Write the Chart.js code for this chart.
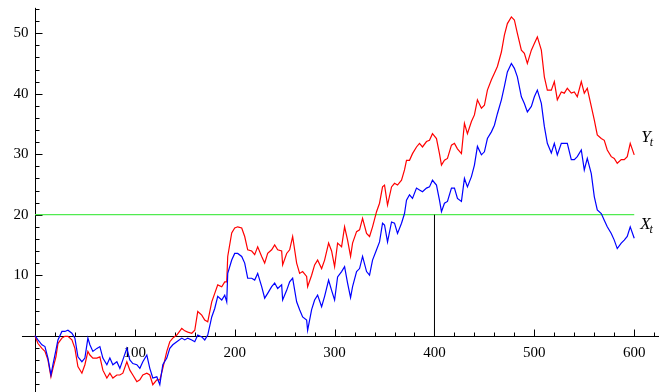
<!DOCTYPE html>
<html>
<head>
<meta charset="utf-8">
<script src="https://cdn.jsdelivr.net/npm/chart.js@4.4.1/dist/chart.umd.min.js"></script>
<style>
  html, body { margin: 0; padding: 0; background: #fff; }
  #wrap { width: 659px; height: 392px; }
</style>
</head>
<body>
<div id="wrap"><canvas id="walk" width="659" height="392"></canvas></div>
<script>
// time steps
const steps = [0,3,7,10,13,16,18,21,23,27, 30,33,37,40,43,47,50,53,55,58,
  62,65,68,72,75,78,82,85,88,92, 95,98,102,105,108,112,115,118,122,125,
  128,132,135,138,142,147,150,153,157,160, 163,167,170,173,177,180,183,187,190,192,
  193,197,200,203,207,210,213,217,220,223, 227,230,233,237,240,243,247,248,252,255,
  258,262,265,268,272,273,277,280,283,287, 290,294,297,300,303,307,310,313,316,318,
  322,325,328,332,335,338,342,345,348,350, 353,357,360,363,367,370,372,375,378,382,
  385,388,392,395,398,402,405,407,410,413, 417,420,423,427,430,433,437,440,443,447,
  450,453,457,460,463,467,470,473,477,480, 483,487,490,493,497,500,503,507,510,513,
  517,520,523,527,530,533,537,540,543,547, 550,553,557,560,563,567,570,573,577,580,
  583,587,590,593,596,600];

// X_t (blue)
const xVals = [0,-0.7,-1.5,-1.8,-3.7,-6.5,-4.8,-2.4,-0.7,0.7, 0.7,0.9,0.4,-0.4,-3.5,-4.3,-3.7,-0.4,-1.5,-2.6,
  -2.1,-1.8,-3.7,-4.8,-3.7,-4.8,-4.3,-5.4,-4.0,-2.1, -4.0,-4.6,-4.8,-5.4,-4.3,-3.2,-5.4,-7.0,-6.8,-8.1,
  -4.8,-3.7,-2.1,-1.5,-1.0,-0.4,-0.7,-0.4,-0.7,-1.0, 0.1,-0.2,-0.7,0.1,3.1,4.5,6.5,5.9,6.7,5.6,
  10.3,12.5,13.6,13.6,13.1,12.0,9.5,9.5,9.2,10.3, 8.1,6.2,7.0,8.1,8.7,7.8,8.4,5.9,7.5,8.9,
  9.5,5.6,4.3,3.1,2.6,0.9,4.3,5.9,6.7,4.8, 6.5,9.2,7.5,5.9,9.7,10.6,11.4,8.7,6.3,8.1,
  10.6,11.1,13.1,10.6,10.0,12.5,14.2,15.5,18.6,18.3, 15.5,18.8,18.6,16.9,18.6,20.2,22.4,23.3,22.7,24.4,
  24.1,23.8,24.4,24.6,25.7,24.9,22.4,20.5,21.9,22.2, 24.4,24.4,22.7,22.2,26.0,24.6,26.3,28.2,31.3,29.9,
  30.4,32.6,33.7,34.8,36.7,39.0,41.2,43.6,45.0,44.2, 42.8,39.5,38.4,37.0,37.9,39.5,40.6,38.4,34.6,31.8,
  30.2,31.8,29.9,31.8,31.8,31.8,29.1,29.1,29.6,30.7, 27.4,29.3,26.8,23.0,20.8,20.2,19.1,18.0,16.9,15.8,
  14.4,15.3,15.8,16.4,18.0,16.1];

// Y_t (red)
const yVals = [0,-1.3,-2.1,-2.6,-4.0,-6.8,-5.4,-3.5,-1.3,-0.4, -0.1,-0.1,-0.7,-2.1,-5.1,-6.2,-4.8,-2.6,-3.2,-3.7,
  -3.7,-3.5,-5.7,-7.0,-6.2,-7.0,-6.5,-6.5,-6.2,-4.3, -5.7,-6.5,-7.6,-7.3,-6.5,-6.2,-6.5,-8.1,-7.3,-7.3,
  -5.4,-2.6,-1.0,-0.4,0.1,1.2,0.8,0.6,0.4,0.9, 4.0,3.4,2.6,2.3,5.6,7.0,8.4,8.1,8.9,8.9,
  13.1,17.0,17.8,18.0,17.8,16.4,14.2,14.0,13.4,14.7, 13.1,12.0,13.6,14.2,15.0,14.2,14.0,11.7,13.6,14.2,
  16.4,12.0,10.3,10.6,9.8,8.1,10.0,11.7,12.5,11.1, 12.5,15.3,14.0,11.4,15.3,14.7,18.0,15.8,13.1,15.3,
  17.2,17.5,19.4,16.9,16.4,18.0,20.5,21.9,24.6,24.9, 21.6,24.6,25.2,24.9,25.7,27.4,29.0,29.0,30.1,31.2,
  31.8,31.2,32.1,32.3,33.4,32.6,30.1,28.2,29.0,29.3, 31.5,31.8,30.9,30.1,35.1,33.4,35.4,36.5,39.0,37.6,
  38.1,40.6,42.3,43.4,44.5,46.9,49.7,51.6,52.7,52.2, 50.0,47.2,46.7,45.0,47.2,48.3,49.4,47.2,42.8,40.6,
  40.6,42.0,39.0,40.3,40.1,40.9,40.1,40.3,39.5,42.0, 40.1,40.9,37.9,35.7,33.2,32.6,32.3,30.7,29.6,29.3,
  28.5,29.1,29.1,29.6,31.8,29.9];

const barrier = 20;     // green level
const hitStep = 400;    // black marker
const xTicks = [100, 200, 300, 400, 500, 600];
const yTicks = [10, 20, 30, 40, 50];

const pts = vals => steps.map((t, i) => ({ x: t, y: vals[i] }));

const axesPlugin = {
  id: 'axes',
  beforeDatasetsDraw(chart) {
    const { ctx, scales: { x, y } } = chart;
    const x0 = Math.round(x.getPixelForValue(0)) + 0.5;
    const y0 = Math.round(y.getPixelForValue(0)) + 0.5;
    ctx.save();
    ctx.strokeStyle = '#000';
    ctx.lineWidth = 1;
    ctx.beginPath();
    ctx.moveTo(x.getPixelForValue(-13), y0);
    ctx.lineTo(chart.width, y0);
    ctx.moveTo(x0, y.getPixelForValue(54.2));
    ctx.lineTo(x0, chart.height);
    for (let v = 20; v <= 640; v += 20) {
      const px = Math.round(x.getPixelForValue(v)) + 0.5;
      ctx.moveTo(px, y0);
      ctx.lineTo(px, y0 - (v % 100 === 0 ? 7 : 4));
    }
    for (let v = -8; v <= 54; v += 2) {
      if (v === 0) continue;
      const py = Math.round(y.getPixelForValue(v)) + 0.5;
      ctx.moveTo(x0, py);
      ctx.lineTo(x0 + (v % 10 === 0 ? 7 : 4), py);
    }
    ctx.stroke();

    ctx.fillStyle = '#000';
    ctx.font = '15px "Liberation Serif"';
    ctx.textBaseline = 'middle';
    ctx.textAlign = 'center';
    xTicks.forEach(v => ctx.fillText(String(v), x.getPixelForValue(v), y0 + 17));
    ctx.textAlign = 'right';
    yTicks.forEach(v => ctx.fillText(String(v), x0 - 7, y.getPixelForValue(v)));
    ctx.restore();
  },
  afterDatasetsDraw(chart) {
    const { ctx, scales: { x, y } } = chart;
    // series names with subscript t
    const label = (name, t, v) => {
      const px = x.getPixelForValue(t);
      const py = y.getPixelForValue(v);
      ctx.font = 'italic 17px "Liberation Serif"';
      ctx.fillText(name, px, py);
      const w = ctx.measureText(name).width;
      ctx.font = 'italic 12px "Liberation Serif"';
      ctx.fillText('t', px + w - 1, py + 4);
    };
    ctx.save();
    ctx.fillStyle = '#000';
    ctx.textAlign = 'left';
    ctx.textBaseline = 'alphabetic';
    label('Y', 607, 32.0);
    label('X', 606, 17.6);
    ctx.restore();
  }
};

new Chart(document.getElementById('walk'), {
  type: 'line',
  data: {
    datasets: [
      { label: 'Y', data: pts(yVals), borderColor: '#ff0000', borderWidth: 1.2, order: 1 },
      { label: 'X', data: pts(xVals), borderColor: '#0000ff', borderWidth: 1.2, order: 0 },
      { label: 'barrier', data: [{ x: 0, y: barrier }, { x: 600, y: barrier }], borderColor: 'rgb(80,235,80)', borderWidth: 1.2, order: 3 },
      { label: 'hit', data: [{ x: hitStep, y: 0 }, { x: hitStep, y: barrier }], borderColor: '#000', borderWidth: 1, order: 2 }
    ]
  },
  options: {
    responsive: false,
    animation: false,
    devicePixelRatio: 1,
    events: [],
    layout: { padding: 0 },
    elements: { point: { radius: 0 }, line: { tension: 0 } },
    plugins: { legend: { display: false }, tooltip: { enabled: false } },
    scales: {
      x: { type: 'linear', min: -35, max: 624.8, display: false },
      y: { type: 'linear', min: -9.31, max: 55.5, display: false }
    }
  },
  plugins: [axesPlugin]
});
</script>
</body>
</html>
